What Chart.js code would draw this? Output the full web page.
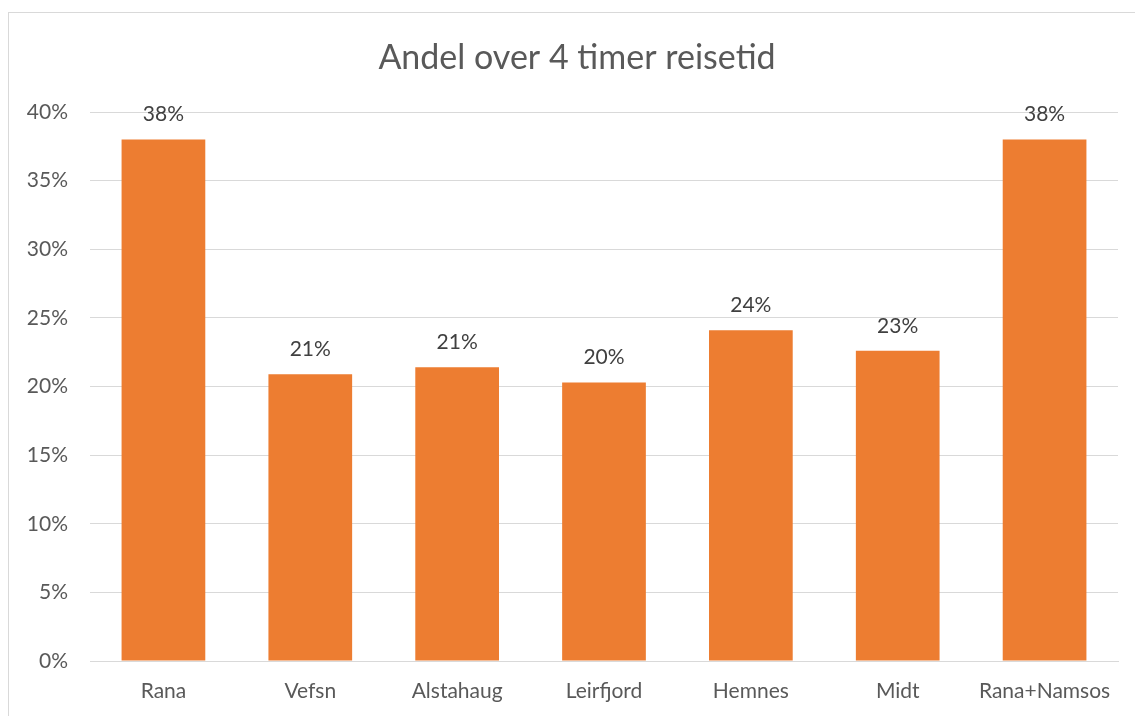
<!DOCTYPE html>
<html>
<head>
<meta charset="utf-8">
<script src="https://cdn.jsdelivr.net/npm/chart.js@4.4.0/dist/chart.umd.min.js"></script>
<style>
  html, body { margin: 0; padding: 0; background: #fff; }
  #wrap { position: relative; width: 1135px; height: 716px; overflow: hidden; }
  #frame { position: absolute; left: 8px; top: 12px; width: 1300px; height: 900px; border: 1px solid #d9d9d9; }
  canvas { position: absolute; left: 0; top: 0; }
</style>
</head>
<body>
<div id="wrap">
  <div id="frame"></div>
  <canvas id="chart" width="1135" height="716"></canvas>
</div>
<script>
const title = "Andel over 4 timer reisetid";
const categories = ["Rana", "Vefsn", "Alstahaug", "Leirfjord", "Hemnes", "Midt", "Rana+Namsos"];
const shares = [38.0, 20.9, 21.4, 20.3, 24.1, 22.6, 38.0];
const tickValues = [0, 5, 10, 15, 20, 25, 30, 35, 40];

const FONT = "Lato, 'Open Sans', sans-serif";

// tittel midt i rammen (rammen går litt utenfor bildet)
const frameTitle = {
    id: "frameTitle",
    afterDraw(chart) {
        const c = chart.ctx;
        c.save();
        c.font = "34px " + FONT;
        c.fillStyle = "#595959";
        c.textAlign = "center";
        c.textBaseline = "middle";
        c.fillText(title, 577, 58);
        c.restore();
    },
};

// etiketter over stolpene
const barLabels = {
    id: "barLabels",
    afterDatasetsDraw(chart) {
        const c = chart.ctx;
        const meta = chart.getDatasetMeta(0);
        c.save();
        c.font = "21px " + FONT;
        c.fillStyle = "#404040";
        c.textAlign = "center";
        c.textBaseline = "middle";
        meta.data.forEach((bar, i) => {
            c.fillText(Math.round(shares[i]) + "%", bar.x, bar.y - 25);
        });
        c.restore();
    },
};

const ctx = document.getElementById("chart").getContext("2d");
new Chart(ctx, {
    type: "bar",
    data: {
        labels: categories,
        datasets: [
            {
                data: shares,
                backgroundColor: "#ED7D31",
                barPercentage: 0.57,
                categoryPercentage: 1.0,
            },
        ],
    },
    options: {
        responsive: false,
        animation: false,
        layout: { padding: { left: 0, right: 17, top: 112, bottom: 0 } },
        plugins: {
            legend: { display: false },
            tooltip: { enabled: false },
            title: { display: false },
        },
        scales: {
            x: {
                grid: { display: false, drawTicks: false },
                border: { color: "#d9d9d9" },
                ticks: {
                    color: "#595959",
                    font: { family: FONT, size: 21 },
                    padding: 18,
                },
                afterFit: (scale) => { scale.height = 55; },
            },
            y: {
                min: 0,
                max: 40,
                afterBuildTicks: (scale) => {
                    scale.ticks = tickValues.map((v) => ({ value: v }));
                },
                grid: { color: "#d9d9d9", drawTicks: false },
                border: { display: false },
                ticks: {
                    color: "#595959",
                    font: { family: FONT, size: 21 },
                    padding: 22,
                    callback: (v) => v + "%",
                },
                afterFit: (scale) => { scale.width = 90; },
            },
        },
    },
    plugins: [barLabels, frameTitle],
});
</script>
</body>
</html>
